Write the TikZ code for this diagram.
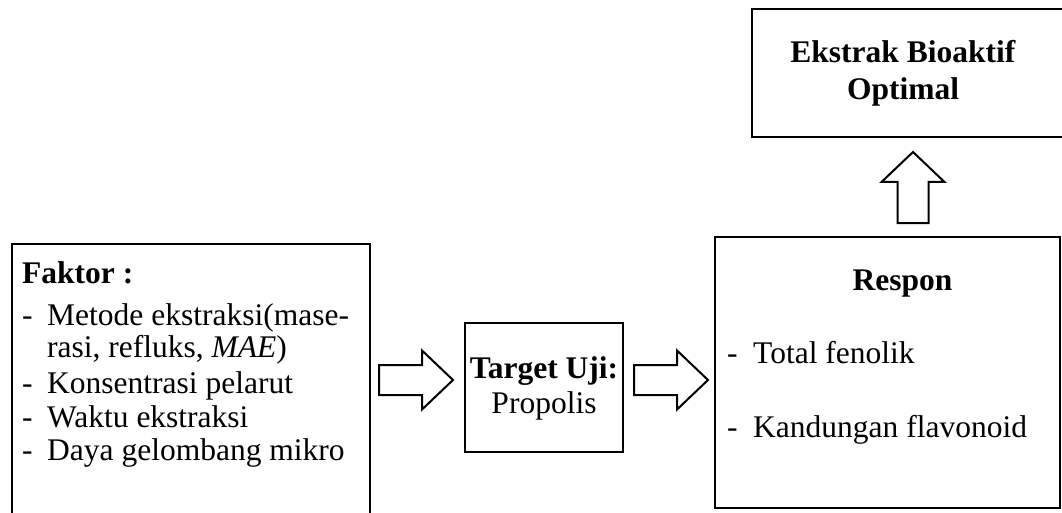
\documentclass[tikz,border=0pt]{standalone}
\usepackage{fontspec}
\setmainfont{Liberation Serif}
\begin{document}
\begin{tikzpicture}[x=1pt,y=-1pt,
  every node/.style={font=\fontsize{31.5}{34}\selectfont},
  frame/.style={draw=none,inner sep=0pt,outer sep=0pt},
  edge/.style={draw=black,line width=2pt},
  txt/.style={inner sep=0pt,anchor=base west},
  ctxt/.style={inner sep=0pt,anchor=base},
  rarrow/.pic={\draw[edge,line join=miter,fill=white]
      (0,-15)--(43,-15)--(43,-29.5)--(74,0)--(43,29.5)--(43,15)--(0,15)--cycle;},
  uarrow/.pic={\draw[edge,line join=miter,fill=white]
      (-15.5,0)--(-15.5,-41)--(-31.5,-41)--(0,-71)--(31.5,-41)--(15.5,-41)--(15.5,0)--cycle;}
]
\useasboundingbox (0,0) rectangle (1062,513);

% boxes
\node[frame,minimum width=358pt,minimum height=269pt] (faktor) at (191,378.5) {};
\draw[edge] (faktor.south west) -- (faktor.north west) -- (faktor.north east) -- (faktor.south east);

\node[frame,edge,minimum width=158pt,minimum height=129pt] (target) at (544,387.5) {};

\node[frame,edge,minimum width=345pt,minimum height=271pt] (respon) at (887.5,372.5) {};

\node[frame,minimum width=310pt,minimum height=128pt] (ekstrak) at (907,73) {};
\draw[edge] (ekstrak.north east) -- (ekstrak.north west) -- (ekstrak.south west) -- (ekstrak.south east);

% factor list
\node[txt] (f0) at (22,283) {\textbf{Faktor :}};
\node[txt] (d1) at (22,325) {-};
\node[txt] (f1) at (47,325) {Metode ekstraksi(mase-};
\node[txt] (f1b) at (47,357) {rasi, refluks, \textit{MAE})};
\node[txt] (d2) at (22,393) {-};
\node[txt] (f2) at (47,393) {Konsentrasi pelarut};
\node[txt] (d3) at (22,427) {-};
\node[txt] (f3) at (47,427) {Waktu ekstraksi};
\node[txt] (d4) at (22,460) {-};
\node[txt] (f4) at (47,460) {Daya gelombang mikro};

% test target
\node[ctxt] (t1) at (544,378) {\textbf{Target Uji:}};
\node[ctxt] (t2) at (544,413) {Propolis};

% responses
\node[ctxt] (r0) at (902.5,290) {\textbf{Respon}};
\node[txt] (rd1) at (727,363) {-};
\node[txt] (r1) at (753,363) {Total fenolik};
\node[txt] (rd2) at (727,437) {-};
\node[txt] (r2) at (753,437) {Kandungan flavonoid};

% result
\node[ctxt] (e1) at (903,63) {\textbf{Ekstrak Bioaktif}};
\node[ctxt] (e2) at (903,100) {\textbf{Optimal}};

% block arrows
\coordinate (a1) at (379,380);
\coordinate (a2) at (634,380);
\coordinate (a3) at (913,223);
\pic at (a1) {rarrow};
\pic at (a2) {rarrow};
\pic at (a3) {uarrow};
\end{tikzpicture}
\end{document}
